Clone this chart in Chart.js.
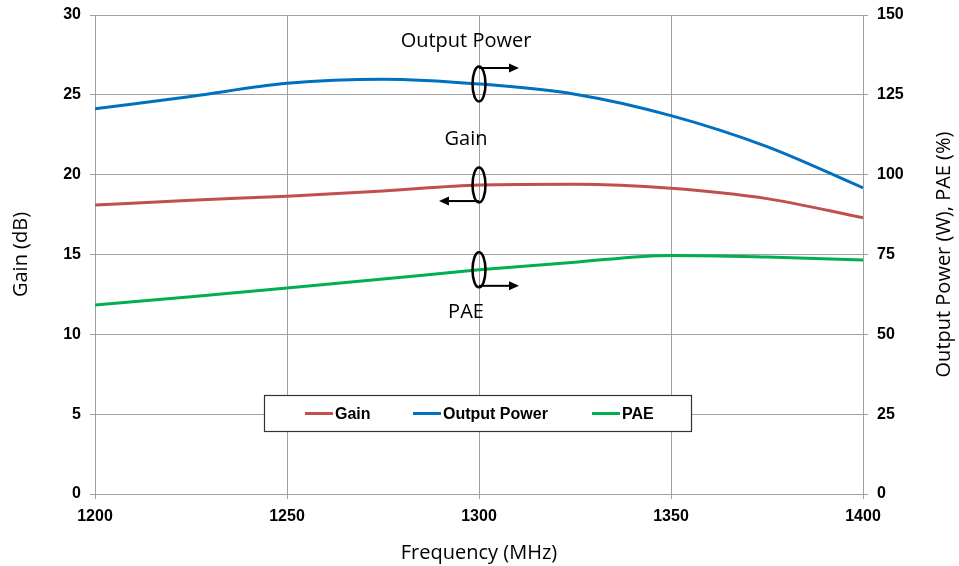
<!DOCTYPE html>
<html>
<head>
<meta charset="utf-8">
<script src="https://cdn.jsdelivr.net/npm/chart.js@4/dist/chart.umd.min.js"></script>
<style>
  html, body { margin: 0; padding: 0; background: #fff; }
  #wrap { width: 959px; height: 566px; position: relative; }
</style>
</head>
<body>
<div id="wrap"><canvas id="paChart" width="959" height="566"></canvas></div>
<script>
const frequencies = [1200, 1225, 1250, 1275, 1300, 1325, 1350, 1375, 1400];
const gainDb = [18.1, 18.4, 18.65, 18.97, 19.35, 19.4, 19.15, 18.5, 17.3];
const outputPowerW = [120.6, 124.5, 128.6, 129.9, 128.4, 125.2, 118.5, 108.8, 95.9];
const paePercent = [59.2, 61.8, 64.5, 67.3, 70.2, 72.6, 74.7, 74.2, 73.3];
const xTicks = [1200, 1250, 1300, 1350, 1400];

const gridColor = '#a0a0a0';
const tickFont = { family: 'Liberation Sans', size: 16, weight: 'bold' };
const titleFont = { family: 'Open Sans', size: 20 };

function toPoints(values) {
    return frequencies.map((f, i) => ({ x: f, y: values[i] }));
}

function arrow(ctx, x1, y, x2) {
    const dir = x2 > x1 ? 1 : -1;
    ctx.beginPath();
    ctx.moveTo(x1, y);
    ctx.lineTo(x2 - dir * 8, y);
    ctx.stroke();
    ctx.beginPath();
    ctx.moveTo(x2, y);
    ctx.lineTo(x2 - dir * 10, y - 4.5);
    ctx.lineTo(x2 - dir * 10, y + 4.5);
    ctx.closePath();
    ctx.fill();
}

// ellipses, arrows, labels, legend box and the right axis title
const extrasPlugin = {
    id: 'extras',
    afterDraw(chart) {
        const ctx = chart.ctx;
        const xs = chart.scales.x, yl = chart.scales.y, yr = chart.scales.y1;
        const cx = xs.getPixelForValue(1300);
        ctx.save();
        ctx.strokeStyle = '#000';
        ctx.fillStyle = '#000';

        const marks = [
            { y: yr.getPixelForValue(outputPowerW[4]), text: 'Output Power', ty: -43, dir: 1, top: true },
            { y: yl.getPixelForValue(gainDb[4]), text: 'Gain', ty: -46, dir: -1, top: false },
            { y: yr.getPixelForValue(paePercent[4]), text: 'PAE', ty: 42, dir: 1, top: false }
        ];
        marks.forEach(m => {
            ctx.lineWidth = 2.5;
            ctx.beginPath();
            ctx.ellipse(cx, m.y, 6.5, 17.5, 0, 0, Math.PI * 2);
            ctx.stroke();
            ctx.lineWidth = 2;
            const ay = m.top ? m.y - 16 : m.y + 16;
            arrow(ctx, cx, ay, cx + m.dir * 40);
            ctx.font = '20px "Open Sans"';
            ctx.textAlign = 'center';
            ctx.textBaseline = 'middle';
            ctx.fillText(m.text, cx - 13, m.y + m.ty);
        });

        // legend
        const bx = 264.5, by = 395.5, bw = 427, bh = 36;
        ctx.fillStyle = '#fff';
        ctx.fillRect(bx, by, bw, bh);
        ctx.lineWidth = 1.2;
        ctx.strokeStyle = '#333';
        ctx.strokeRect(bx, by, bw, bh);
        const items = [
            { x: 305, ds: chart.data.datasets[0] },
            { x: 413, ds: chart.data.datasets[1] },
            { x: 592, ds: chart.data.datasets[2] }
        ];
        ctx.font = 'bold 16px "Liberation Sans"';
        ctx.textAlign = 'left';
        ctx.textBaseline = 'middle';
        items.forEach(it => {
            ctx.strokeStyle = it.ds.borderColor;
            ctx.lineWidth = 3;
            ctx.beginPath();
            ctx.moveTo(it.x, by + bh / 2);
            ctx.lineTo(it.x + 28, by + bh / 2);
            ctx.stroke();
            ctx.fillStyle = '#000';
            ctx.fillText(it.ds.label, it.x + 30, by + bh / 2 + 1);
        });

        // right axis title, reading bottom to top
        ctx.translate(944, (yr.top + yr.bottom) / 2);
        ctx.rotate(-Math.PI / 2);
        ctx.font = '20px "Open Sans"';
        ctx.textAlign = 'center';
        ctx.fillStyle = '#000';
        ctx.fillText('Output Power (W), PAE (%)', 0, 0);
        ctx.restore();
    }
};

function fixVertical(width) {
    return s => {
        s.width = width;
        s.paddingTop = 0;
        s.paddingBottom = 0;
    };
}

new Chart(document.getElementById('paChart').getContext('2d'), {
    type: 'line',
    data: {
        datasets: [
            { label: 'Gain', data: toPoints(gainDb), yAxisID: 'y', borderColor: '#C0504D' },
            { label: 'Output Power', data: toPoints(outputPowerW), yAxisID: 'y1', borderColor: '#0070C0' },
            { label: 'PAE', data: toPoints(paePercent), yAxisID: 'y1', borderColor: '#00B050' }
        ]
    },
    options: {
        responsive: false,
        animation: false,
        layout: { padding: { top: 15, left: 0, right: 0, bottom: 0 } },
        elements: {
            line: { borderWidth: 3, cubicInterpolationMode: 'monotone', fill: false },
            point: { radius: 0 }
        },
        plugins: { legend: { display: false }, tooltip: { enabled: false } },
        scales: {
            x: {
                type: 'linear', min: 1200, max: 1400,
                afterBuildTicks: s => { s.ticks = xTicks.map(v => ({ value: v })); },
                afterFit: s => { s.height = 72; s.paddingLeft = 0; s.paddingRight = 0; },
                grid: { color: gridColor, tickLength: 5 },
                border: { color: gridColor },
                ticks: { font: tickFont, color: '#000', padding: 8, maxRotation: 0, callback: v => String(v) },
                title: { display: true, text: 'Frequency (MHz)', font: titleFont, color: '#000', padding: { top: 4, bottom: 1 } }
            },
            y: {
                position: 'left', min: 0, max: 30,
                afterFit: fixVertical(95),
                grid: { color: gridColor, tickLength: 5 },
                border: { color: gridColor },
                ticks: { stepSize: 5, font: tickFont, color: '#000', padding: 9 },
                title: { display: true, text: 'Gain (dB)', font: titleFont, color: '#000', padding: { top: 9, bottom: 4 } }
            },
            y1: {
                position: 'right', min: 0, max: 150,
                afterFit: fixVertical(96),
                grid: { drawOnChartArea: false, color: gridColor, tickLength: 5 },
                border: { color: gridColor },
                ticks: { stepSize: 25, font: tickFont, color: '#000', padding: 9 }
            }
        }
    },
    plugins: [extrasPlugin]
});
</script>
</body>
</html>
